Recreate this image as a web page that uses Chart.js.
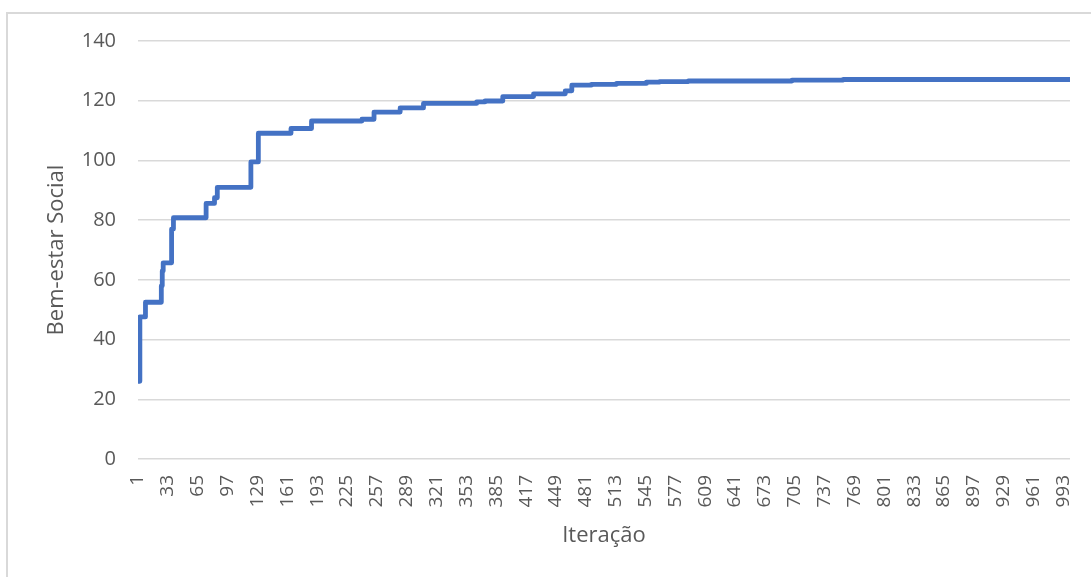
<!DOCTYPE html>
<html>
<head>
<meta charset="utf-8">
<script src="https://cdn.jsdelivr.net/npm/chart.js@4"></script>
<style>
  html, body { margin: 0; padding: 0; background: #ffffff; }
  #wrap { width: 1091px; height: 577px; position: relative; }
</style>
</head>
<body>
<div id="wrap"><canvas id="c" width="1091" height="577"></canvas></div>
<script>
// Iteration at which the social welfare changes (step points) and the value from there on
const iterations = [1, 3, 9, 26, 27, 28, 37, 39, 74, 83, 86, 122, 130, 165, 187, 241, 254, 282, 307, 364, 373, 392, 425, 459, 466, 487, 514, 546, 560, 591, 702, 757, 1000];
const welfare    = [26, 47.6, 52.5, 58, 63, 65.7, 77, 80.8, 85.6, 87.5, 91, 99.5, 109.1, 110.7, 113.2, 113.8, 116.2, 117.6, 119.1, 119.6, 119.9, 121.4, 122.3, 123.3, 125.2, 125.5, 125.8, 126.2, 126.4, 126.6, 126.9, 127.1, 127.1];
const xTickLabels = [1, 33, 65, 97, 129, 161, 193, 225, 257, 289, 321, 353, 385, 417, 449, 481, 513, 545, 577, 609, 641, 673, 705, 737, 769, 801, 833, 865, 897, 929, 961, 993];
const yTicks = [0, 20, 40, 60, 80, 100, 120, 140];

const points = iterations.map((it, i) => ({ x: it, y: welfare[i] }));
const textGrey = '#595959';

const frame = {
  id: 'frame',
  beforeDraw(chart) {
    const ctx = chart.ctx;
    ctx.save();
    ctx.fillStyle = '#ffffff';
    ctx.fillRect(0, 0, chart.width, chart.height);
    ctx.strokeStyle = '#d9d9d9';
    ctx.lineWidth = 2;
    ctx.beginPath();
    ctx.moveTo(7, chart.height);
    ctx.lineTo(7, 13);
    ctx.lineTo(chart.width, 13);
    ctx.stroke();
    ctx.restore();
  }
};

new Chart(document.getElementById('c'), {
  type: 'line',
  data: {
    datasets: [{
      label: 'Bem-estar Social',
      data: points,
      borderColor: '#4472C4',
      backgroundColor: '#4472C4',
      borderWidth: 4.8,
      stepped: 'before',
      pointRadius: 0,
      pointHoverRadius: 0,
      borderJoinStyle: 'round',
      borderCapStyle: 'round',
      fill: false
    }]
  },
  options: {
    responsive: false,
    animation: false,
    devicePixelRatio: 1,
    layout: { padding: { left: 0, right: 21, top: 41, bottom: 0 } },
    plugins: { legend: { display: false }, tooltip: { enabled: false } },
    scales: {
      x: {
        type: 'linear',
        min: 1,
        max: 1000,
        afterBuildTicks(scale) { scale.ticks = xTickLabels.map(v => ({ value: v })); },
        afterFit(scale) { scale.height = 118; scale.paddingLeft = 0; scale.paddingRight = 0; },
        grid: { display: false, drawTicks: false },
        border: { display: false },
        ticks: {
          autoSkip: false,
          minRotation: 90,
          maxRotation: 90,
          padding: 16,
          color: textGrey,
          font: { family: 'Open Sans', size: 19 },
          callback: (v) => String(v)
        },
        title: {
          display: true,
          text: 'Iteração',
          color: textGrey,
          font: { family: 'Open Sans', size: 22, lineHeight: 1.2 },
          padding: { top: 0, bottom: 28 }
        }
      },
      y: {
        min: 0,
        max: 140,
        afterBuildTicks(scale) { scale.ticks = yTicks.map(v => ({ value: v })); },
        afterFit(scale) { scale.width = 138; },
        grid: { color: '#d9d9d9', lineWidth: 1.5, drawTicks: false },
        border: { display: false },
        ticks: {
          padding: 22,
          color: textGrey,
          font: { family: 'Open Sans', size: 20 }
        },
        title: {
          display: true,
          text: 'Bem-estar Social',
          color: textGrey,
          font: { family: 'Open Sans', size: 22, lineHeight: 1.2 },
          padding: { top: 44, bottom: 0 }
        }
      }
    }
  },
  plugins: [frame]
});
</script>
</body>
</html>
